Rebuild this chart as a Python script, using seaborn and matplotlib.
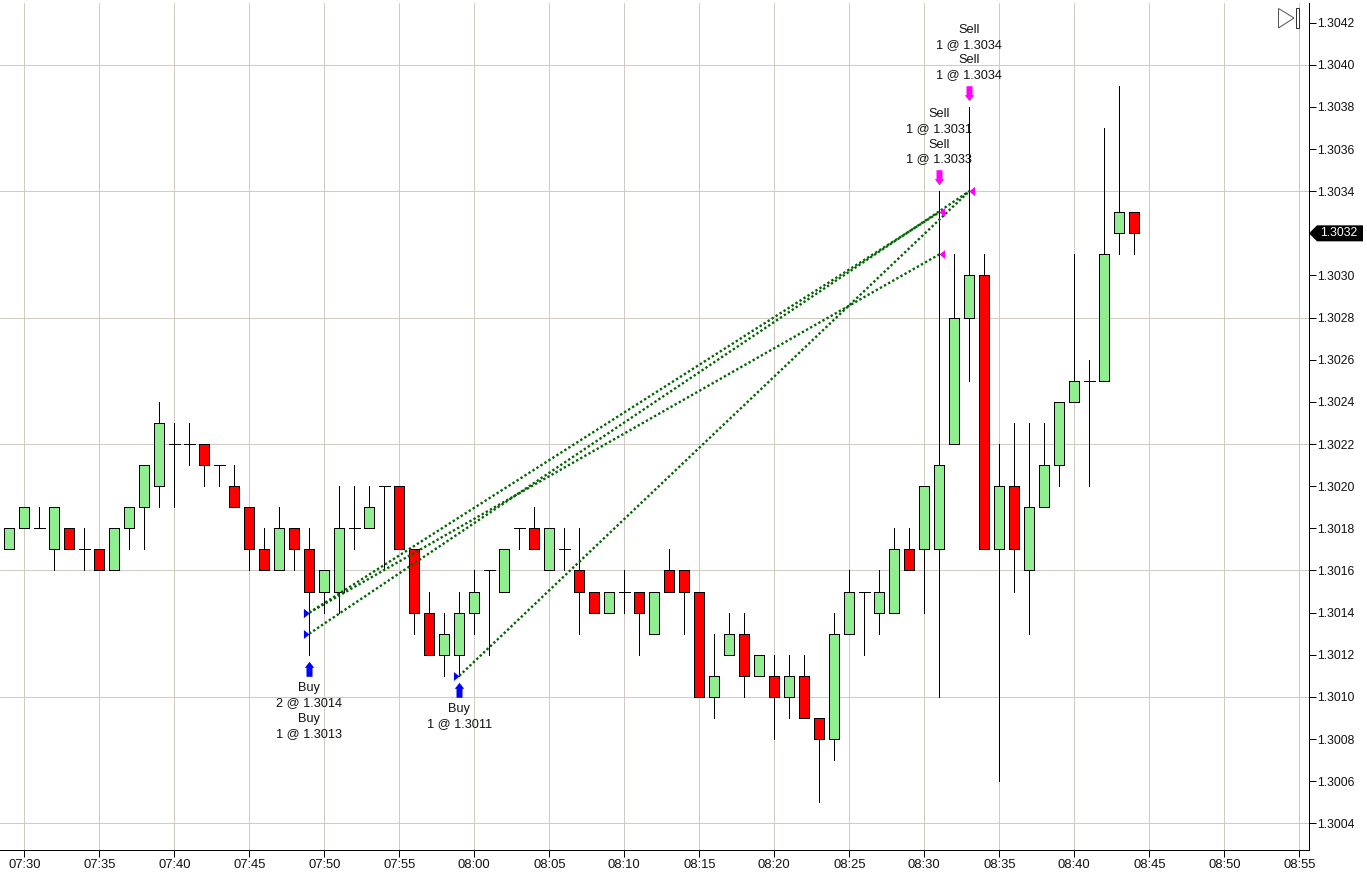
import numpy as np
import pandas as pd
import seaborn as sns
import matplotlib.pyplot as plt
from matplotlib.path import Path
from matplotlib.patches import Polygon, Rectangle

# prices are stored as pips above 1.3000, one candle per minute from 07:29
base = 1.3
first_minute = 7 * 60 + 29
opens = [17, 18, 18, 17, 18, 17, 17, 16, 18, 19, 20, 22, 22, 22, 21, 20, 19, 17, 16, 18,
         17, 15, 15, 18, 18, 20, 20, 17, 14, 12, 12, 14, 16, 15, 18, 18, 16, 17, 16, 15,
         14, 15, 15, 13, 16, 16, 15, 10, 12, 13, 11, 11, 10, 11, 9, 8, 13, 15, 14, 14,
         17, 17, 17, 22, 28, 30, 17, 20, 16, 19, 21, 24, 25, 25, 32, 33]
highs = [18, 19, 19, 19, 18, 18, 17, 18, 19, 21, 24, 23, 23, 22, 21, 21, 19, 18, 19, 18,
         18, 16, 20, 20, 20, 20, 20, 17, 15, 14, 15, 16, 16, 17, 18, 19, 18, 18, 18, 15,
         15, 16, 15, 15, 17, 16, 15, 13, 14, 14, 12, 12, 12, 12, 9, 14, 16, 15, 16, 18,
         18, 20, 34, 31, 38, 31, 22, 23, 23, 23, 24, 31, 26, 37, 39, 33]
lows = [17, 18, 18, 16, 17, 16, 16, 16, 17, 17, 19, 19, 21, 20, 20, 19, 16, 16, 16, 16,
        12, 14, 14, 17, 18, 16, 17, 13, 12, 11, 11, 13, 12, 15, 17, 17, 16, 16, 13, 14,
        14, 14, 12, 13, 15, 13, 10, 9, 12, 10, 11, 8, 9, 9, 5, 7, 13, 12, 13, 14,
        16, 14, 10, 22, 25, 17, 6, 15, 13, 19, 20, 24, 20, 25, 31, 31]
closes = [18, 19, 18, 19, 17, 17, 16, 18, 19, 21, 23, 22, 22, 21, 21, 19, 17, 16, 18, 17,
          15, 16, 18, 18, 19, 20, 17, 14, 12, 13, 14, 15, 16, 17, 18, 17, 18, 17, 15, 14,
          15, 15, 14, 15, 15, 15, 10, 11, 13, 11, 12, 10, 11, 9, 8, 13, 15, 15, 15, 17,
          16, 20, 21, 28, 30, 17, 20, 17, 19, 21, 24, 25, 25, 31, 33, 32]

# round trips as entry minute, entry pips, exit minute, exit pips
trade_entry_minutes = ["07:49", "07:49", "07:49", "07:59"]
trade_entry_prices = [14, 14, 13, 11]
trade_exit_minutes = ["08:31", "08:31", "08:33", "08:33"]
trade_exit_prices = [31, 33, 34, 34]

buy_times = ["07:49", "07:59"]
buy_labels = [["Buy", "2 @ 1.3014", "Buy", "1 @ 1.3013"], ["Buy", "1 @ 1.3011"]]
sell_times = ["08:31", "08:33"]
sell_labels = [["Sell", "1 @ 1.3031", "Sell", "1 @ 1.3033"], ["Sell", "1 @ 1.3034", "Sell", "1 @ 1.3034"]]

x_tick_labels = ["07:30", "07:35", "07:40", "07:45", "07:50", "07:55", "08:00", "08:05", "08:10",
                 "08:15", "08:20", "08:25", "08:30", "08:35", "08:40", "08:45", "08:50", "08:55"]
y_tick_pips = list(range(4, 43, 2))
y_grid_pips = [4, 10, 16, 22, 28, 34, 40]
last_price = 1.3032


def minutes(label):
    h, m = label.split(":")
    return int(h) * 60 + int(m)


def price(pips):
    return base + np.asarray(pips) / 10000


W, H = 1367, 877
sns.set_style("white")
plt.rcParams["font.family"] = ["Liberation Sans", "DejaVu Sans"]
fig = plt.figure(figsize=(W / 100, H / 100), dpi=100)
ax = fig.add_axes([0, (H - 850) / H, 1308.5 / W, 847 / H])

df = pd.DataFrame({"minute": first_minute + np.arange(len(opens)),
                   "open": price(opens), "high": price(highs),
                   "low": price(lows), "close": price(closes)})
doji = df[df["open"] == df["close"]]
body = df[df["open"] != df["close"]]
colors = np.where(body["close"] > body["open"], "#90EE90", "#FF0000")

# candles
px = 0.72
ax.vlines(df["minute"], df["low"], df["high"], color="black", lw=px, zorder=2, antialiased=False)
ax.hlines(doji["open"], doji["minute"] - 0.36, doji["minute"] + 0.36, color="black", lw=px, zorder=2,
          antialiased=False)
ax.bar(body["minute"], (body["close"] - body["open"]).abs(), bottom=body[["open", "close"]].min(axis=1),
       width=0.667, color=colors, edgecolor="black", linewidth=px, zorder=3, antialiased=False)

# trade lines
rows = []
for i in range(len(trade_entry_prices)):
    rows.append({"trade": i, "minute": minutes(trade_entry_minutes[i]), "price": price(trade_entry_prices[i])})
    rows.append({"trade": i, "minute": minutes(trade_exit_minutes[i]), "price": price(trade_exit_prices[i])})
trades = pd.DataFrame(rows)
sns.lineplot(data=trades, x="minute", y="price", units="trade", estimator=None, sort=False, ax=ax,
             color="#006400", lw=1.7, linestyle=(0, (1, 1)), zorder=4, legend=False)

# fill triangles, tip on the fill price
entries = trades.iloc[::2]
exits = trades.iloc[1::2]
right_tri = Path([(-1, -0.8), (0, 0), (-1, 0.8), (-1, -0.8)], closed=True)
left_tri = Path([(1, -0.8), (0, 0), (1, 0.8), (1, -0.8)], closed=True)
sns.scatterplot(data=entries, x="minute", y="price", marker=right_tri, s=64, color="#0000FF", linewidth=0,
                zorder=5, ax=ax, legend=False)
sns.scatterplot(data=exits, x="minute", y="price", marker=left_tri, s=64, color="#FF00FF", linewidth=0,
                zorder=5, ax=ax, legend=False)

# block arrows hang off the candle's extreme, drawn in pixels from that point
arrow_up = [(0, -6.3), (4.7, -12.3), (3, -12.3), (3, -21.3), (-3, -21.3), (-3, -12.3), (-4.7, -12.3), (0, -6.3)]
arrow_down = [(a, -b) for a, b in arrow_up]
buy_x = [minutes(t) for t in buy_times]
sell_x = [minutes(t) for t in sell_times]
buy_y = df.set_index("minute").loc[buy_x, "low"].values
sell_y = df.set_index("minute").loc[sell_x, "high"].values
arrow_s = (2 * 21.3 * px) ** 2
sns.scatterplot(x=buy_x, y=buy_y, marker=Path(arrow_up, closed=True), s=arrow_s, color="#0000FF",
                linewidth=0, zorder=5, ax=ax, legend=False)
sns.scatterplot(x=sell_x, y=sell_y, marker=Path(arrow_down, closed=True), s=arrow_s, color="#FF00FF",
                linewidth=0, zorder=5, ax=ax, legend=False)

# fill labels
offsets = [33.5, 48, 64.5, 79]
for xv, yv, lines in zip(buy_x, buy_y, buy_labels):
    for off, line in zip(offsets, lines):
        ax.annotate(line, (xv, yv), xytext=(0, -off * px), textcoords="offset points", ha="center", va="center",
                    fontsize=9.2, color="#111111", zorder=6)
offsets = [77, 62, 46.5, 32]
for xv, yv, lines in zip(sell_x, sell_y, sell_labels):
    for off, line in zip(offsets, lines):
        ax.annotate(line, (xv, yv), xytext=(0, off * px), textcoords="offset points", ha="center", va="center",
                    fontsize=9.2, color="#111111", zorder=6, annotation_clip=False)

# axes
ax.set_xlim(450 - 24.3 / 15, 450 + (1308.5 - 24.3) / 15)
ax.set_ylim(price(34 - (850 - 191.2) / 21.07), price(34 + (191.2 - 3) / 21.07))
ax.set_xticks([minutes(t) for t in x_tick_labels])
ax.set_xticklabels(x_tick_labels)
ax.set_yticks(price(y_tick_pips))
ax.set_yticklabels([f"{p:.4f}" for p in price(y_tick_pips)])
ax.yaxis.tick_right()
ax.set_xlabel("")
ax.set_ylabel("")
ax.tick_params(axis="both", direction="out", length=4.8, width=px, color="black", labelsize=8.8, pad=1.5,
               labelcolor="#111111", bottom=True, right=True, left=False)
ax.tick_params(axis="x", labelsize=9.4, pad=2)
for side in ["left", "top"]:
    ax.spines[side].set_visible(False)
for side in ["right", "bottom"]:
    ax.spines[side].set_visible(True)
    ax.spines[side].set_color("black")
    ax.spines[side].set_linewidth(px)

ax.set_axisbelow(True)
ax.grid(True, color="#D0CCC4", lw=px)
for p, line in zip(y_tick_pips, ax.get_ygridlines()):
    line.set_visible(p in y_grid_pips)


def fig_xy(x, y):
    return (x / W, 1 - y / H)


# last price tag
tag_y = H - ax.transData.transform((0, last_price))[1]
tag = [(1309, tag_y), (1317, tag_y - 8), (1363, tag_y - 8), (1363, tag_y + 8), (1317, tag_y + 8)]
fig.add_artist(Polygon([fig_xy(a, b) for a, b in tag], closed=True, color="black", transform=fig.transFigure,
                       lw=0, zorder=7))
fig.text(*fig_xy(1338.5, tag_y), f"{last_price:.4f}", color="white", fontsize=8.8, ha="center", va="center", zorder=8)

# scroll-to-end icon, top right
fig.add_artist(Polygon([fig_xy(1278.5, 8.5), fig_xy(1294, 18), fig_xy(1278.5, 28)], closed=True, fill=False,
                       edgecolor="#555555", lw=px, transform=fig.transFigure, zorder=7))
x0, y0 = fig_xy(1295.5, 28)
fig.add_artist(Rectangle((x0, y0), 3.5 / W, 20 / H, fill=False, edgecolor="#333333", lw=px,
                         transform=fig.transFigure, zorder=7))

fig.savefig("out.png", dpi=100)
